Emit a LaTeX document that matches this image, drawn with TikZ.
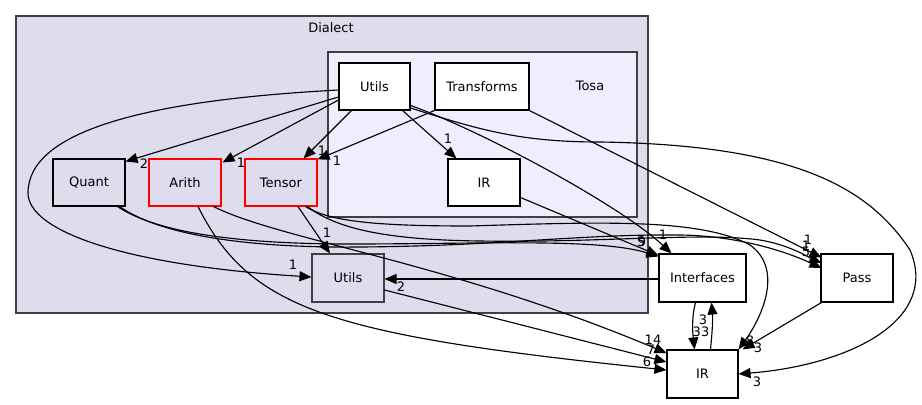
\documentclass[tikz,border=0pt]{standalone}
\usepackage{fontspec}
\setmainfont{DejaVu Sans}
\usepackage{xcolor}
\usetikzlibrary{arrows.meta, calc}
\definecolor{dialectbg}{HTML}{DDDDEE}
\definecolor{tosabg}{HTML}{EEEEFF}
\definecolor{clusterline}{HTML}{404040}
\tikzset{
    every node/.style={font=\fontsize{9.75}{11}\selectfont},
    cluster/.style={draw=clusterline, line width=1.2pt},
    dirbox/.style={draw, fill=white, line width=0.8pt, minimum width=54pt, minimum height=35.25pt, inner sep=0pt},
    greybox/.style={dirbox, fill=dialectbg},
    redbox/.style={greybox, draw=red},
    dep/.style={-{Triangle[length=9pt,width=7.5pt]}, line width=0.85pt},
    num/.style={inner sep=0pt}
}

\begin{document}
\begin{tikzpicture}[x=0.75pt, y=-0.75pt]
    \useasboundingbox (0,0) rectangle (922,404);
    % Dialect cluster
    \draw[cluster, fill=dialectbg] (16,16) rectangle (648,313);
    \node (dialect) at (331,27.5) {Dialect};
    % Tosa cluster
    \draw[cluster, fill=tosabg] (328,52) rectangle (637,217);
    \node (tosa) at (590,86) {Tosa};
    % Directories inside Tosa
    \node[dirbox, minimum width=53.25pt] (tutils) at (374.5,86.5) {Utils};
    \node[dirbox, minimum width=70.5pt] (transforms) at (482,86.5) {Transforms};
    \node[dirbox] (tir) at (484,182.5) {IR};
    % Directories inside Dialect
    \node[greybox] (quant) at (89,182.5) {Quant};
    \node[redbox] (arith) at (185,182.5) {Arith};
    \node[redbox] (tensor) at (281,182.5) {Tensor};
    \node[greybox, draw=clusterline, minimum height=36pt] (dutils) at (348,278) {Utils};
    % Outside directories
    \node[dirbox, minimum width=65.25pt, minimum height=36pt] (interfaces) at (702.5,278) {Interfaces};
    \node[dirbox, minimum height=36pt] (pass) at (857,278) {Pass};
    \node[dirbox, minimum width=53.25pt, minimum height=36pt] (ir) at (702.5,374) {IR};

    % Tosa/Utils dependencies
    \draw[dep] ($(tutils.west)+(0,10.5)$) -- ($(quant.north east)+(0,3)$) node[num] at (144,164) {2};
    \draw[dep] ($(tutils.west)+(0,13.5)$) -- ($(arith.north east)+(1,4)$) node[num] at (241,163) {1};
    \draw[dep] ($(tutils.south west)+(13,0)$) -- ($(tensor.north east)+(-14,0)$) node[num] at (322,151) {1};
    \draw[dep] ($(tutils.south east)+(-8,0)$) -- ($(tir.north west)+(9,0)$) node[num] at (448,139) {1};
    \draw[dep] ($(tutils.west)+(0,3.5)$) .. controls (150,100) and (28,130) .. (28,193)
        .. controls (28,230) and (120,265) .. ($(dutils.west)+(0,-1)$) node[num] at (293,265) {1};
    \draw[dep] ($(tutils.east)+(0,19)$) .. controls (480,130) and (620,205) .. ($(interfaces.north west)+(13,0)$)
        node[num] at (663,235) {1};
    \draw[dep] ($(tutils.east)+(0,21.5)$) .. controls (480,130) and (520,142) .. (600,142)
        .. controls (800,145) and (870,190) .. (910,250)
        .. controls (940,320) and (850,365) .. (ir.east) node[num] at (757,382) {3};
    % Transforms dependencies
    \draw[dep] (transforms.south west) -- ($(tensor.north east)+(0,1)$) node[num] at (337,161) {1};
    \draw[dep] (transforms.south east) -- ($(pass.north west)+(1,4)$) node[num] at (808,240) {1};
    % Tosa/IR dependencies
    \draw[dep] ($(tir.east)+(0,15)$) -- ($(interfaces.north west)+(0,2)$) node[num] at (642,242) {9};
    % Quant dependencies
    \draw[dep] ($(quant.south east)+(-8,0)$) .. controls (160,235) and (250,244) .. (350,244)
        .. controls (480,244) and (600,238) .. ($(interfaces.north west)+(0,3)$) node[num] at (641,242) {5};
    \draw[dep] ($(quant.south east)+(-6,0)$) .. controls (165,238) and (260,248) .. (360,247)
        .. controls (500,246) and (580,234) .. (680,235)
        .. controls (750,236) and (800,258) .. ($(pass.west)+(1,-10)$) node[num] at (806,246) {1};
    % Arith dependencies
    \draw[dep] ($(arith.south east)+(-8,0)$) .. controls (280,240) and (450,262) .. ($(ir.west)+(0,-21)$)
        node[num] at (653,340) {14};
    \draw[dep] ($(arith.south)+(13,0)$) .. controls (250,310) and (330,335) .. ($(ir.west)+(0,-4)$)
        node[num] at (647,362) {6};
    % Tensor dependencies
    \draw[dep] ($(tensor.south)+(17,0)$) -- ($(dutils.north)+(-18,0)$) node[num] at (327,233) {1};
    \draw[dep] ($(tensor.south east)+(-12,0)$) .. controls (330,222) and (380,226) .. (470,226)
        .. controls (600,222) and (700,218) .. (750,245)
        .. controls (785,270) and (760,320) .. (ir.north east) node[num] at (750,341) {8};
    \draw[dep] ($(tensor.south east)+(-10,0)$) .. controls (340,232) and (400,240) .. (480,241)
        .. controls (600,243) and (700,232) .. (760,240)
        .. controls (790,245) and (810,258) .. ($(pass.west)+(1,-15)$) node[num] at (806,252) {5};
    % Dialect/Utils dependencies
    \draw[dep] ($(dutils.east)+(0,12)$) -- ($(ir.west)+(0,-12)$) node[num] at (651,350) {7};
    % Interfaces, Pass and IR
    \draw[dep] ($(interfaces.west)+(0,1)$) -- ($(dutils.east)+(0,1)$) node[num] at (401,287) {2};
    \draw[dep] ($(interfaces.south)+(-7,0)$) .. controls (691,320) and (693,335) .. ($(ir.north)+(-8,0)$)
        node[num] at (701,332) {33};
    \draw[dep] ($(ir.north)+(8,0)$) .. controls (712,335) and (713,320) .. ($(interfaces.south)+(9,0)$)
        node[num] at (703,320) {3};
    \draw[dep] ($(pass.south west)+(1,0)$) -- ($(ir.north east)+(4,0)$) node[num] at (758,348) {3};
\end{tikzpicture}
\end{document}
